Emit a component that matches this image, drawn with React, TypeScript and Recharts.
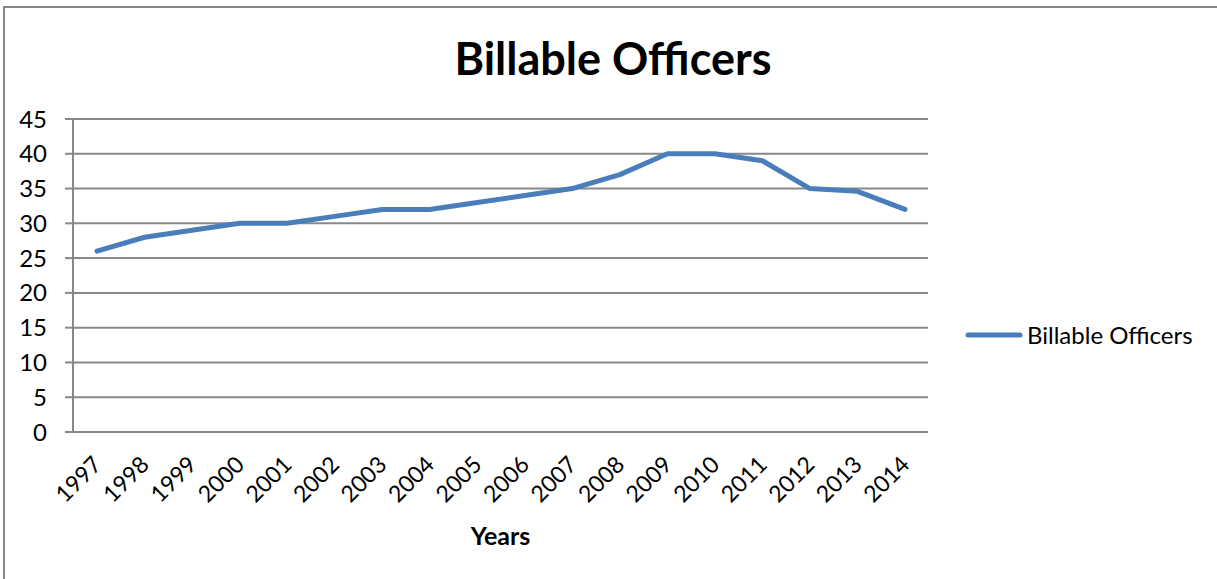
import React from "react";
import { LineChart, Line, XAxis, YAxis, CartesianGrid } from "recharts";

const years = ["1997","1998","1999","2000","2001","2002","2003","2004","2005","2006","2007","2008","2009","2010","2011","2012","2013","2014"];
const officers = [26, 28, 29, 30, 30, 31, 32, 32, 33, 34, 35, 37, 40, 40, 39, 35, 34.6, 32];
const yTicks = [0, 5, 10, 15, 20, 25, 30, 35, 40, 45];
const seriesName = "Billable Officers";

const data = years.map((y, i) => ({ year: y, value: officers[i] }));

const FONT = "Lato, 'Open Sans', sans-serif";
const GRID = "#888888";
const LINE = "#4a7ebb";

const XTick = (props: any) => {
  const { x, y, payload } = props;
  const ax = x - 7;
  const ay = y + 13;
  return (
    <text
      x={ax}
      y={ay}
      transform={`rotate(-45, ${ax}, ${ay})`}
      textAnchor="end"
      dominantBaseline="hanging"
      fontSize={23}
      fontFamily={FONT}
      fill="#000"
    >
      {payload.value}
    </text>
  );
};

export default function App() {
  return (
    <div style={{ position: "fixed", left: 0, top: 0, width: 1217, height: 579, overflow: "hidden", background: "#fff" }}>
      <div
        style={{
          position: "absolute",
          left: 3,
          top: 6,
          width: 1400,
          height: 800,
          border: "2px solid #878787",
          boxSizing: "border-box",
        }}
      />
      <div
        style={{
          position: "absolute",
          left: 0,
          top: 31,
          width: 1226,
          textAlign: "center",
          fontFamily: FONT,
          fontWeight: 700,
          fontSize: 45,
          color: "#000",
        }}
      >
        Billable Officers
      </div>
      <div style={{ position: "absolute", left: 0, top: 0 }}>
        <LineChart
          width={1217}
          height={579}
          data={data}
          margin={{ top: 119, right: 289, bottom: 0, left: 0 }}
        >
          <CartesianGrid vertical={false} stroke={GRID} strokeWidth={2} />
          <XAxis
            dataKey="year"
            height={147}
            padding={{ left: 24, right: 23 }}
            axisLine={{ stroke: GRID, strokeWidth: 2 }}
            tickLine={false}
            tick={<XTick />}
            interval={0}
            label={{
              value: "Years",
              position: "insideBottom",
              offset: 34,
              style: { fontFamily: FONT, fontWeight: 700, fontSize: 25, fill: "#000" },
            }}
          />
          <YAxis
            width={73}
            domain={[0, 45]}
            ticks={yTicks}
            interval={0}
            axisLine={{ stroke: GRID, strokeWidth: 2 }}
            tickLine={{ stroke: GRID, strokeWidth: 2 }}
            tickSize={8}
            tickMargin={18}
            tick={{ fontFamily: FONT, fontSize: 24, fill: "#000" }}
          />
          <Line
            type="linear"
            dataKey="value"
            name={seriesName}
            stroke={LINE}
            strokeWidth={5}
            dot={false}
            strokeLinecap="round"
            strokeLinejoin="round"
            isAnimationActive={false}
          />
        </LineChart>
      </div>
      <div
        style={{
          position: "absolute",
          left: 964,
          top: 320,
          display: "flex",
          alignItems: "center",
          fontFamily: FONT,
          fontSize: 24,
          color: "#000",
          whiteSpace: "nowrap",
        }}
      >
        <svg width={60} height={10} style={{ display: "block" }}>
          <line x1={4} y1={5} x2={56} y2={5} stroke={LINE} strokeWidth={5} strokeLinecap="round" />
        </svg>
        <span style={{ marginLeft: 3 }}>{seriesName}</span>
      </div>
    </div>
  );
}
